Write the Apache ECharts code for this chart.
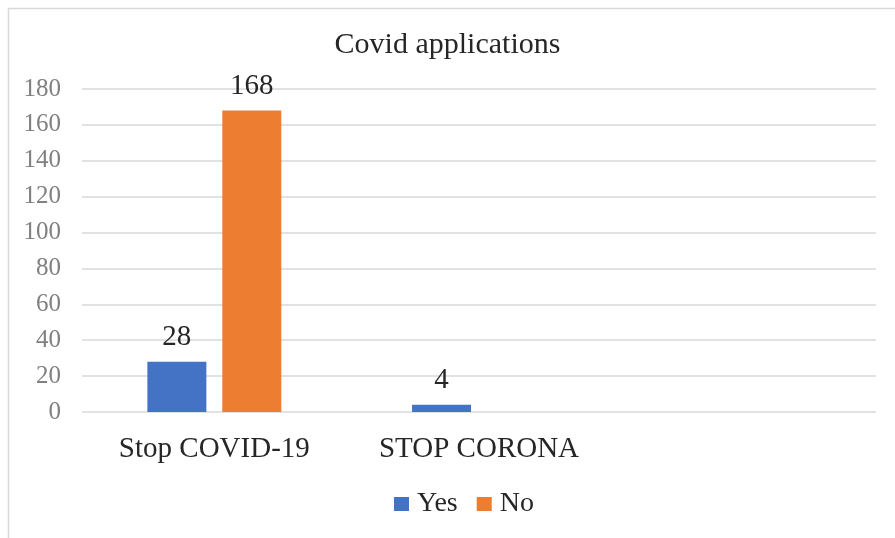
<!DOCTYPE html>
<html>
<head>
<meta charset="utf-8">
<script src="https://cdn.jsdelivr.net/npm/echarts@6/dist/echarts.min.js"></script>
<style>
html,body{margin:0;padding:0;background:#fff;}
#chart{width:895px;height:538px;}
</style>
</head>
<body>
<div id="chart"></div>
<script>
const categories = ['Stop COVID-19', 'STOP CORONA', ''];
const yesValues = [28, 4, null];
const noValues = [168, null, null];
const seriesNames = ['Yes', 'No'];
const titleText = 'Covid applications';

const FONT = '"Liberation Serif", "Times New Roman", serif';
const chart = echarts.init(document.getElementById('chart'), null, {renderer: 'canvas'});
const labelStyle = {
  show: true, position: 'top', distance: 10,
  fontFamily: FONT, fontSize: 29, color: '#262626'
};
chart.setOption({
  animation: false,
  backgroundColor: '#ffffff',
  graphic: [{
    type: 'rect', left: 6, top: 6, silent: true,
    shape: {width: 1000, height: 1000},
    style: {fill: 'none', stroke: '#d9d9d9', lineWidth: 1.5}
  }],
  title: {
    text: titleText, left: 'center', top: 25,
    textStyle: {fontFamily: FONT, fontSize: 30, fontWeight: 'normal', color: '#262626'}
  },
  legend: {
    data: seriesNames, left: 389, top: 485, itemWidth: 15, itemHeight: 14, itemGap: 19,
    icon: 'rect',
    textStyle: {fontFamily: FONT, fontSize: 28, color: '#262626', padding: [0, 0, 0, 3]}
  },
  grid: {left: 82, right: 19, top: 89, bottom: 126, containLabel: false},
  xAxis: {
    type: 'category', data: categories,
    axisLine: {show: false}, axisTick: {show: false},
    axisLabel: {fontFamily: FONT, fontSize: 29, color: '#262626', margin: 23, interval: 0}
  },
  yAxis: {
    type: 'value', min: 0, max: 180, interval: 20,
    axisLine: {show: false}, axisTick: {show: false},
    splitLine: {lineStyle: {color: '#d9d9d9', width: 1.5}},
    axisLabel: {fontFamily: FONT, fontSize: 25, color: '#808080', margin: 21}
  },
  series: [
    {name: seriesNames[0], type: 'bar', data: yesValues, barWidth: 59, barGap: '27%',
     itemStyle: {color: '#4472C4'}, label: labelStyle},
    {name: seriesNames[1], type: 'bar', data: noValues, barWidth: 59, barGap: '27%',
     itemStyle: {color: '#ED7D31'}, label: labelStyle}
  ]
});
</script>
</body>
</html>
